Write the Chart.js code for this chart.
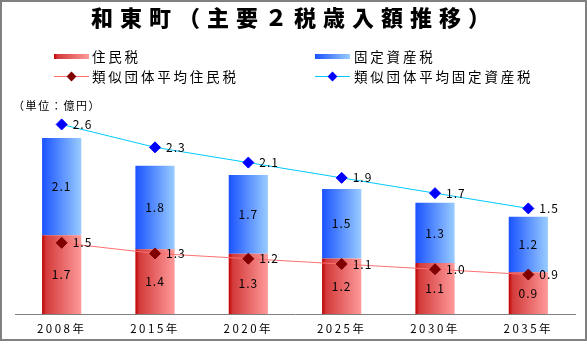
<!DOCTYPE html>
<html>
<head>
<meta charset="utf-8">
<script src="https://cdn.jsdelivr.net/npm/chart.js@4"></script>
<style>
  body { margin: 0; background: #fff; font-family: "Noto Sans CJK JP", sans-serif; }
  #wrap { position: relative; width: 587px; height: 344px; }
  #frame { position: absolute; left: 0; top: 0; width: 583px; height: 337px; border: 2px solid #808080; pointer-events: none; }
  #title { position: absolute; left: 91px; top: 2px; font-size: 22px; font-weight: 900; line-height: 28px; letter-spacing: 7px; white-space: nowrap; }
  .lg { position: absolute; font-size: 13.5px; line-height: 16px; letter-spacing: 2.8px; white-space: nowrap; }
  .sw { position: absolute; width: 35px; height: 5px; }
  .ln { position: absolute; width: 35px; height: 1px; }
  .dm { position: absolute; width: 7px; height: 7px; transform: rotate(45deg); }
  #unit { position: absolute; left: 13px; top: 97px; font-size: 11px; line-height: 16px; letter-spacing: 1.6px; white-space: nowrap; }
</style>
</head>
<body>
<div id="wrap">
  <canvas id="chart" width="587" height="344"></canvas>
  <div id="title">和東町（主要２税歳入額推移）</div>

  <div class="sw" style="left:54px;top:54px;background:linear-gradient(to right,#c00000,#d33a3a 10%,#ff9a9a)"></div>
  <div class="lg" style="left:92px;top:48px">住民税</div>
  <div class="sw" style="left:315px;top:54px;background:linear-gradient(to right,#1a53ff,#99ccff)"></div>
  <div class="lg" style="left:354px;top:48px">固定資産税</div>

  <div class="ln" style="left:54px;top:76px;background:#ff7070"></div>
  <div class="dm" style="left:68px;top:73px;background:#800000"></div>
  <div class="lg" style="left:92px;top:68px">類似団体平均住民税</div>
  <div class="ln" style="left:315px;top:76px;background:#00c8ff"></div>
  <div class="dm" style="left:329px;top:73px;background:#0000ff"></div>
  <div class="lg" style="left:354px;top:68px">類似団体平均固定資産税</div>

  <div id="unit">（単位：億円）</div>
  <div id="frame"></div>
</div>
<script>
const years = ["2008年", "2015年", "2020年", "2025年", "2030年", "2035年"];
const residentTax = [1.7, 1.4, 1.3, 1.2, 1.1, 0.9];
const propertyTax = [2.1, 1.8, 1.7, 1.5, 1.3, 1.2];
const avgResidentTax = [1.5, 1.3, 1.2, 1.1, 1.0, 0.9];
const avgPropertyTax = [2.6, 2.3, 2.1, 1.9, 1.7, 1.5];

const BAR_PCT = 0.42;

// horizontal gradient across each bar
function barFill(c0, cMid, c1) {
  return (ctx) => {
    const chart = ctx.chart;
    const area = chart.chartArea;
    if (!area || ctx.type !== "data") return c1;
    const x = chart.scales.x.getPixelForValue(ctx.dataIndex);
    const w = (area.right - area.left) / years.length * BAR_PCT;
    const g = chart.ctx.createLinearGradient(x - w / 2, 0, x + w / 2, 0);
    g.addColorStop(0, c0);
    if (cMid) g.addColorStop(0.1, cMid);
    g.addColorStop(1, c1);
    return g;
  };
}

const valueLabels = {
  id: "valueLabels",
  beforeDraw(chart) {
    chart.ctx.letterSpacing = "2.5px";
  },
  afterDatasetsDraw(chart) {
    const ctx = chart.ctx;
    ctx.save();
    ctx.font = '12px "Noto Sans CJK JP"';
    ctx.letterSpacing = "1px";
    ctx.fillStyle = "#000";
    ctx.textBaseline = "middle";
    chart.data.datasets.forEach((ds, i) => {
      const meta = chart.getDatasetMeta(i);
      meta.data.forEach((el, j) => {
        const txt = ds.data[j].toFixed(1);
        if (ds.type === "bar") {
          ctx.textAlign = "center";
          ctx.fillText(txt, el.x, (el.y + el.base) / 2);
        } else {
          ctx.textAlign = "left";
          ctx.fillText(txt, el.x + 11, el.y);
        }
      });
    });
    ctx.restore();
  }
};

new Chart(document.getElementById("chart"), {
  data: {
    labels: years,
    datasets: [
      {
        type: "bar",
        label: "住民税",
        data: residentTax,
        backgroundColor: barFill("#c00000", "#d33a3a", "#ff9a9a"),
        yAxisID: "y",
        order: 2
      },
      {
        type: "bar",
        label: "固定資産税",
        data: propertyTax,
        backgroundColor: barFill("#1a53ff", null, "#99ccff"),
        yAxisID: "y",
        order: 2
      },
      {
        type: "line",
        label: "類似団体平均住民税",
        data: avgResidentTax,
        borderColor: "#ff7070",
        borderWidth: 1,
        pointStyle: "rectRot",
        pointRadius: 5.5,
        pointBackgroundColor: "#800000",
        pointBorderColor: "#800000",
        pointBorderWidth: 1,
        yAxisID: "yRes",
        order: 1
      },
      {
        type: "line",
        label: "類似団体平均固定資産税",
        data: avgPropertyTax,
        borderColor: "#00c8ff",
        borderWidth: 1,
        pointStyle: "rectRot",
        pointRadius: 5.5,
        pointBackgroundColor: "#0000ff",
        pointBorderColor: "#0000ff",
        pointBorderWidth: 1,
        yAxisID: "yProp",
        order: 1
      }
    ]
  },
  options: {
    responsive: false,
    animation: false,
    layout: { padding: { left: 15, right: 12, top: 100, bottom: 0 } },
    datasets: {
      bar: { categoryPercentage: 1, barPercentage: BAR_PCT }
    },
    plugins: {
      legend: { display: false },
      title: { display: false },
      tooltip: { enabled: false }
    },
    scales: {
      x: {
        stacked: true,
        grid: { display: false, drawTicks: false },
        border: { color: "#808080", width: 1 },
        ticks: { color: "#000", font: { family: "Noto Sans CJK JP", size: 11.5 }, padding: 8 },
        afterFit: (s) => { s.height = 30; }
      },
      y: { stacked: true, display: false, min: 0, max: 4.62 },
      yRes: { display: false, min: 0.155, max: 4.2 },
      yProp: { display: false, min: 0.117, max: 2.92 }
    }
  },
  plugins: [valueLabels]
});
</script>
</body>
</html>
